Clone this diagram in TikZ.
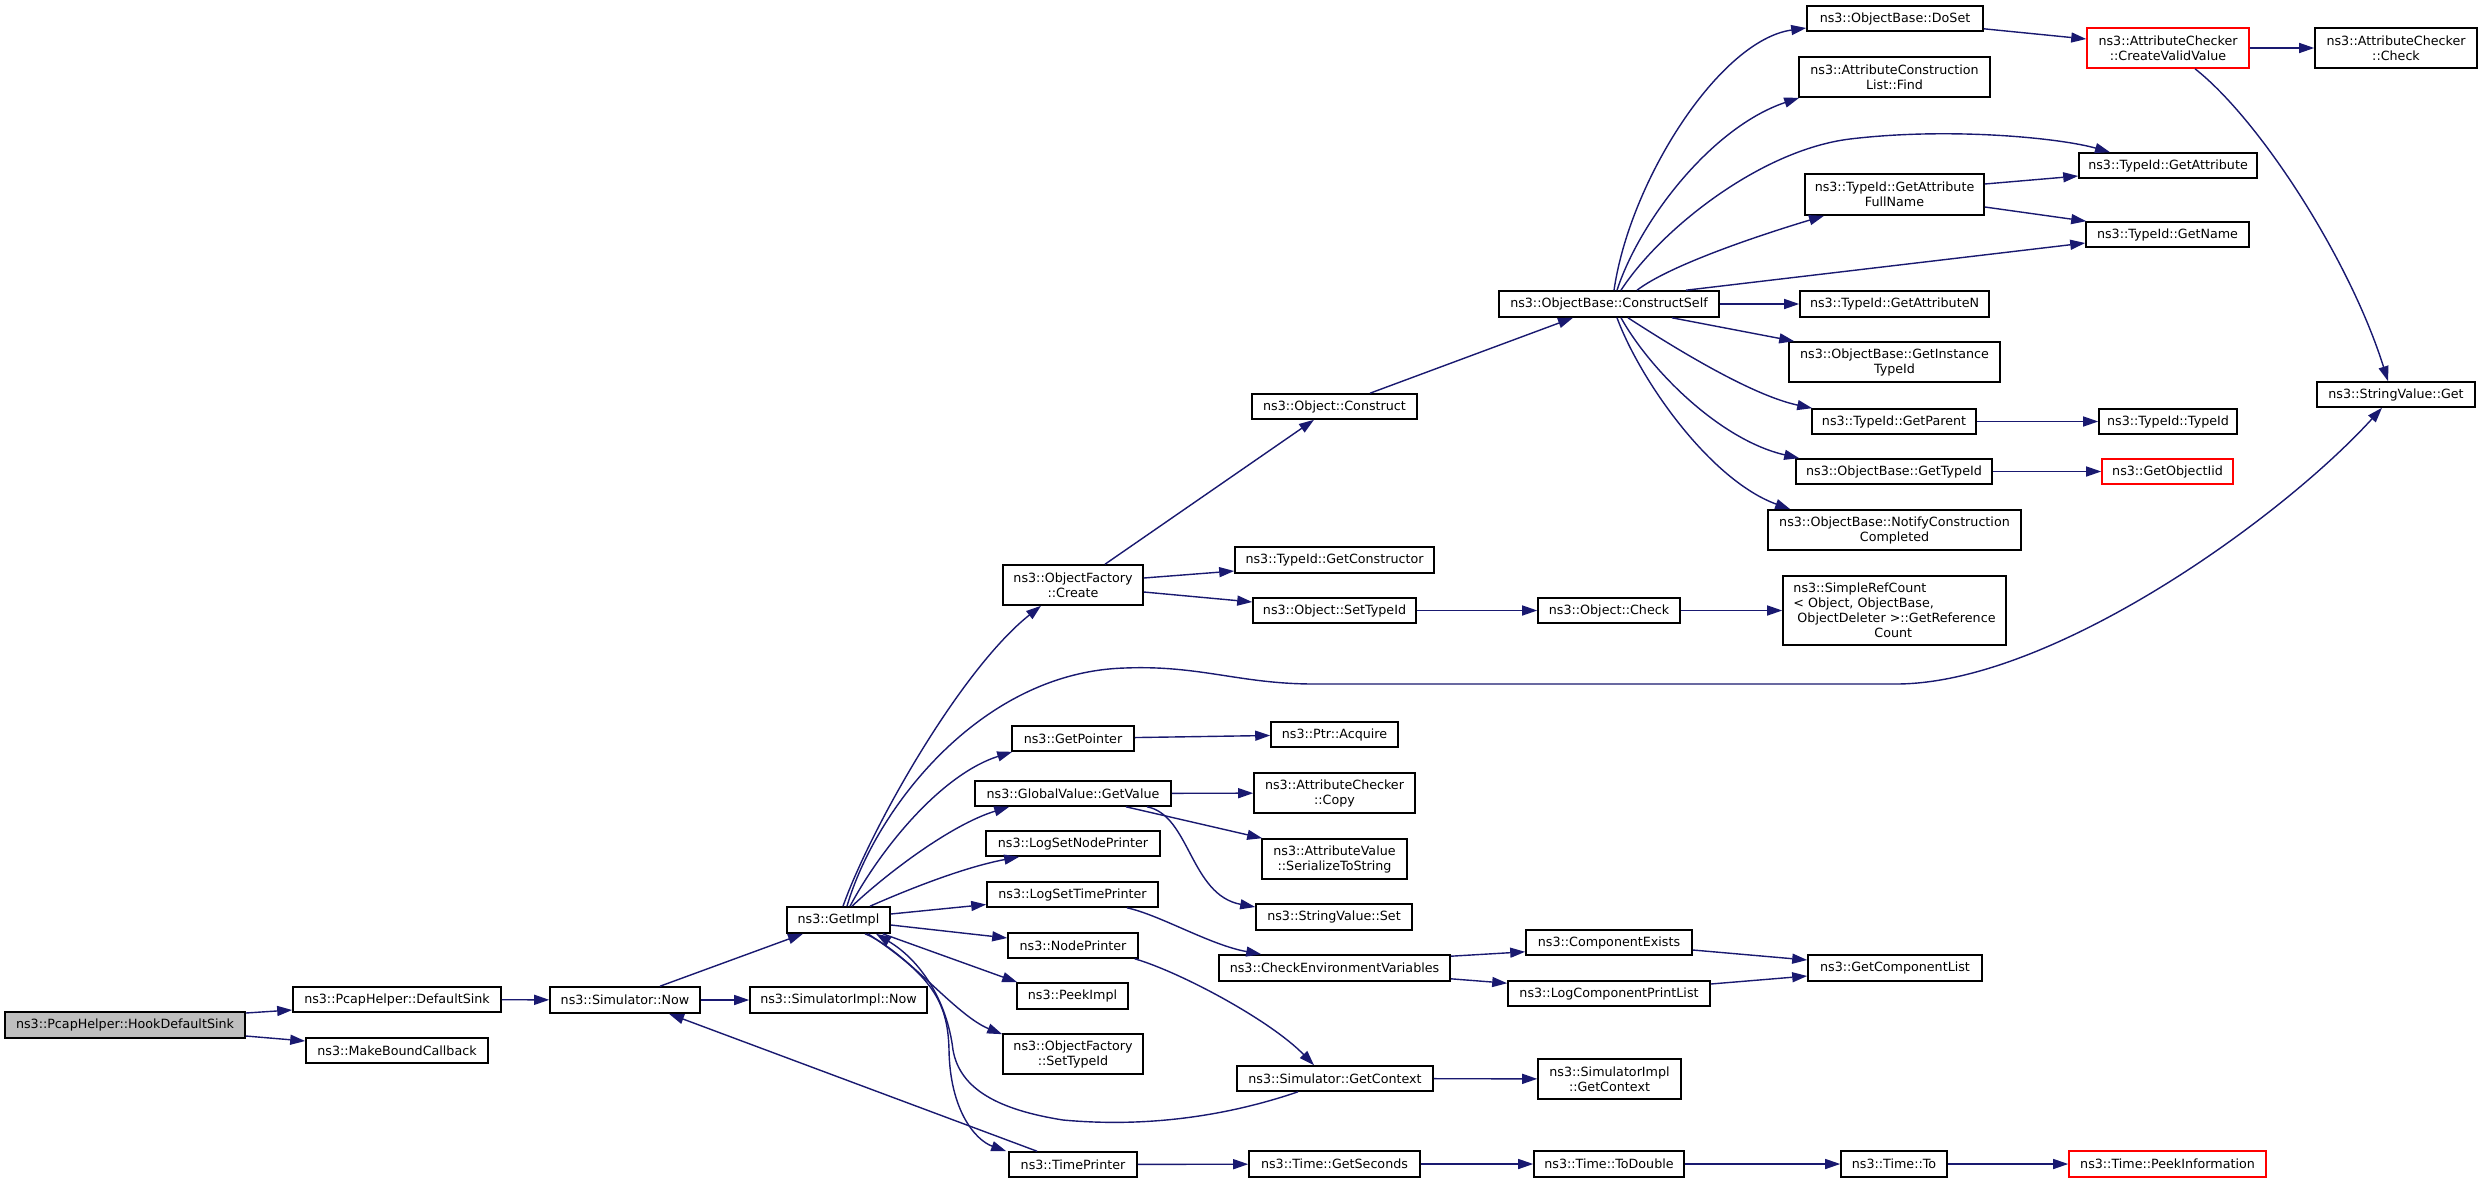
\documentclass[tikz,border=0pt]{standalone}
\usepackage{fontspec}
\setmainfont{DejaVu Sans}
\usetikzlibrary{arrows.meta,calc}
\definecolor{edgeblue}{HTML}{191970}
\definecolor{fngray}{HTML}{BFBFBF}
\definecolor{redborder}{HTML}{FF0000}
\begin{document}
\begin{tikzpicture}[x=1pt,y=-1pt,
  box/.style={draw=black, line width=1.6pt, fill=white, inner sep=0pt, align=center,
              font=\fontsize{12.7}{15}\selectfont},
  fnbox/.style={box, fill=fngray},
  redbox/.style={box, draw=redborder},
  edge/.style={draw=edgeblue, line width=1.4pt, -{Triangle[length=15pt,width=10pt]}}]
\fill[white] (0,0) rectangle (2483,1183);
\useasboundingbox (0,0) rectangle (2483,1183);

% nodes
\node[fnbox, minimum width=240, minimum height=26] (hook) at (125,1025) {ns3::PcapHelper::HookDefaultSink};
\node[box, minimum width=208, minimum height=25] (defsink) at (397,999.5) {ns3::PcapHelper::DefaultSink};
\node[box, minimum width=182, minimum height=25] (mkcb) at (397,1050.5) {ns3::MakeBoundCallback};
\node[box, minimum width=150, minimum height=26] (simnow) at (625,1000) {ns3::Simulator::Now};
\node[box, minimum width=177, minimum height=26] (simimplnow) at (838.5,1000) {ns3::SimulatorImpl::Now};
\node[box, minimum width=103, minimum height=26] (getimpl) at (838.5,920) {ns3::GetImpl};
\node[box, minimum width=140, minimum height=40] (create) at (1073,585) {ns3::ObjectFactory\\::Create};
\node[box, minimum width=165, minimum height=25] (construct) at (1334.5,406.5) {ns3::Object::Construct};
\node[box, minimum width=220, minimum height=26] (cself) at (1609,304) {ns3::ObjectBase::ConstructSelf};
\node[box, minimum width=176, minimum height=25] (doset) at (1895,18.5) {ns3::ObjectBase::DoSet};
\node[box, minimum width=191, minimum height=40] (acfind) at (1894.5,77) {ns3::AttributeConstruction\\List::Find};
\node[box, minimum width=178, minimum height=25] (getattr) at (2168,165.5) {ns3::TypeId::GetAttribute};
\node[box, minimum width=179, minimum height=41] (fullname) at (1894.5,194.5) {ns3::TypeId::GetAttribute\\FullName};
\node[box, minimum width=163, minimum height=25] (getname) at (2167.5,234.5) {ns3::TypeId::GetName};
\node[box, minimum width=189, minimum height=26] (getattrn) at (1894.5,304) {ns3::TypeId::GetAttributeN};
\node[box, minimum width=211, minimum height=40] (insttid) at (1894.5,362) {ns3::ObjectBase::GetInstance\\TypeId};
\node[box, minimum width=164, minimum height=25] (getparent) at (1894,421.5) {ns3::TypeId::GetParent};
\node[box, minimum width=138, minimum height=25] (typeid) at (2168,421.5) {ns3::TypeId::TypeId};
\node[box, minimum width=196, minimum height=25] (gettypeid) at (1894,471.5) {ns3::ObjectBase::GetTypeId};
\node[redbox, minimum width=131, minimum height=25] (objiid) at (2167.5,471.5) {ns3::GetObjectIid};
\node[box, minimum width=253, minimum height=40] (notify) at (1894.5,530) {ns3::ObjectBase::NotifyConstruction\\Completed};
\node[redbox, minimum width=162, minimum height=40] (cvv) at (2168,48) {ns3::AttributeChecker\\::CreateValidValue};
\node[box, minimum width=162, minimum height=40] (acheck) at (2396,48) {ns3::AttributeChecker\\::Check};
\node[box, minimum width=158, minimum height=25] (svget) at (2396,394.5) {ns3::StringValue::Get};
\node[box, minimum width=199, minimum height=26] (getctor) at (1334.5,560) {ns3::TypeId::GetConstructor};
\node[box, minimum width=163, minimum height=25] (settid) at (1334.5,610.5) {ns3::Object::SetTypeId};
\node[box, minimum width=142, minimum height=25] (ocheck) at (1609,610.5) {ns3::Object::Check};
\node[box, minimum width=223, minimum height=69, align=left] (srefc) at (1894.5,610.5)
  {ns3::SimpleRefCount\\< Object, ObjectBase,\\\hspace*{4pt}ObjectDeleter >::GetReference\\\hspace*{81pt}Count};
\node[box, minimum width=122, minimum height=25] (getptr) at (1073,738.5) {ns3::GetPointer};
\node[box, minimum width=127, minimum height=25] (acquire) at (1334.5,734.5) {ns3::Ptr::Acquire};
\node[box, minimum width=196, minimum height=25] (getvalue) at (1073,793.5) {ns3::GlobalValue::GetValue};
\node[box, minimum width=161, minimum height=40] (accopy) at (1334.5,793) {ns3::AttributeChecker\\::Copy};
\node[box, minimum width=174, minimum height=25] (lsnp) at (1073,843.5) {ns3::LogSetNodePrinter};
\node[box, minimum width=145, minimum height=40] (serial) at (1334.5,859) {ns3::AttributeValue\\::SerializeToString};
\node[box, minimum width=171, minimum height=25] (lstp) at (1072.5,894.5) {ns3::LogSetTimePrinter};
\node[box, minimum width=156, minimum height=26] (svset) at (1334,917) {ns3::StringValue::Set};
\node[box, minimum width=130, minimum height=25] (nodeprinter) at (1073,945.5) {ns3::NodePrinter};
\node[box, minimum width=231, minimum height=26] (checkenv) at (1334.5,968) {ns3::CheckEnvironmentVariables};
\node[box, minimum width=166, minimum height=25] (compexists) at (1609,942.5) {ns3::ComponentExists};
\node[box, minimum width=174, minimum height=26] (getcomplist) at (1895,968) {ns3::GetComponentList};
\node[box, minimum width=202, minimum height=25] (lcpl) at (1609,993.5) {ns3::LogComponentPrintList};
\node[box, minimum width=111, minimum height=26] (peekimpl) at (1072.5,996) {ns3::PeekImpl};
\node[box, minimum width=140, minimum height=40] (ofsettid) at (1073,1054) {ns3::ObjectFactory\\::SetTypeId};
\node[box, minimum width=196, minimum height=25] (simgetctx) at (1335,1078.5) {ns3::Simulator::GetContext};
\node[box, minimum width=143, minimum height=40] (simimplgetctx) at (1609.5,1079) {ns3::SimulatorImpl\\::GetContext};
\node[box, minimum width=128, minimum height=25] (timeprinter) at (1073,1164.5) {ns3::TimePrinter};
\node[box, minimum width=171, minimum height=26] (getseconds) at (1334.5,1164) {ns3::Time::GetSeconds};
\node[box, minimum width=150, minimum height=26] (todouble) at (1609,1164) {ns3::Time::ToDouble};
\node[box, minimum width=106, minimum height=26] (timeto) at (1894,1164) {ns3::Time::To};
\node[redbox, minimum width=197, minimum height=26] (peekinfo) at (2167.5,1164) {ns3::Time::PeekInformation};

% edges
\draw[edge] ($(hook.east)+(0,-12)$) -- ($(defsink.west)+(0,10.5)$);
\draw[edge] ($(hook.east)+(0,11)$) -- ($(mkcb.west)+(0,-9.5)$);
\draw[edge] (defsink) -- (simnow);
\draw[edge] ($(simnow.north)+(35,0)$) -- ($(getimpl.south)+(-35.5,0)$);
\draw[edge] (simnow) -- (simimplnow);
\draw[edge] ($(timeprinter.north)+(-36,0)$) -- ($(simnow.south)+(44,0)$);

\draw[edge] ($(getimpl.north)+(4.5,0)$) .. controls (870,830) and (960,670) .. ($(create.south)+(-32,0)$);
\draw[edge] ($(getimpl.north)+(8.5,0)$) .. controls (875,810) and (980,672) .. (1125,668)
   .. controls (1200,665) and (1240,684) .. (1314,684) -- (1896,684)
   .. controls (2050,684) and (2280,520) .. ($(svget.south)+(-14,0)$);
\draw[edge] ($(getimpl.north)+(11.5,0)$) .. controls (880,850) and (940,775) .. ($(getptr.south west)+(1,0)$);
\draw[edge] ($(getimpl.north)+(13.5,0)$) .. controls (885,875) and (950,825) .. ($(getvalue.south west)+(35,0)$);
\draw[edge] ($(getimpl.north)+(31.5,0)$) .. controls (900,893) and (960,868) .. ($(lsnp.south west)+(34,0)$);
\draw[edge] ($(getimpl.east)+(0,-6)$) -- ($(lstp.west)+(0,10)$);
\draw[edge] ($(getimpl.east)+(0,5)$) -- ($(nodeprinter.west)+(0,-7.5)$);
\draw[edge] ($(getimpl.south east)+(-8,0)$) -- ($(peekimpl.north west)+(1,0)$);
\draw[edge] ($(getimpl.south)+(26.5,0)$) .. controls (905,950) and (955,1015) .. ($(ofsettid.north west)+(0,1)$);
\draw[edge] ($(getimpl.south)+(29.5,0)$) .. controls (930,975) and (948,1000) .. (949,1050)
   .. controls (950,1110) and (975,1140) .. ($(timeprinter.north west)+(-2,0)$);
\draw[edge] ($(simgetctx.south)+(-37,0)$) .. controls (1230,1115) and (1150,1128) .. (1063,1120)
   .. controls (1000,1110) and (960,1090) .. (953,1050)
   .. controls (947,1000) and (920,960) .. ($(getimpl.south)+(37.5,0)$);

\draw[edge] ($(create.north)+(32,0)$) -- ($(construct.south)+(-20.5,0)$);
\draw[edge] ($(create.east)+(0,-7)$) -- ($(getctor.west)+(0,11)$);
\draw[edge] ($(create.east)+(0,7)$) -- ($(settid.west)+(0,-8.5)$);
\draw[edge] ($(construct.north)+(35.5,0)$) -- ($(cself.south)+(-36,0)$);
\draw[edge] (settid) -- (ocheck);
\draw[edge] (ocheck) -- (srefc);

\draw[edge] ($(cself.north)+(5,0)$) .. controls (1630,180) and (1720,40) .. ($(doset.west)+(0,9.5)$);
\draw[edge] ($(cself.north)+(8,0)$) .. controls (1640,220) and (1712,127) .. ($(acfind.south west)+(1,0)$);
\draw[edge] ($(cself.north)+(12,0)$) .. controls (1660,230) and (1760,150) .. (1850,139)
   .. controls (1950,127) and (2060,138) .. ($(getattr.north)+(-58,0)$);
\draw[edge] ($(cself.north)+(28,0)$) .. controls (1670,265) and (1760,235) .. ($(fullname.south)+(-70.5,0)$);
\draw[edge] ($(cself.north)+(77,0)$) -- ($(getname.west)+(0,8.5)$);
\draw[edge] (cself) -- (getattrn);
\draw[edge] ($(cself.south)+(63,0)$) -- ($(insttid.north west)+(6,0)$);
\draw[edge] ($(cself.south)+(19,0)$) .. controls (1670,345) and (1750,395) .. ($(getparent.north west)+(1,0)$);
\draw[edge] ($(cself.south)+(12,0)$) .. controls (1650,370) and (1720,440) .. ($(gettypeid.north west)+(4,0)$);
\draw[edge] ($(cself.south)+(8,0)$) .. controls (1640,380) and (1710,480) .. ($(notify.north west)+(23,0)$);

\draw[edge] ($(doset.south east)+(0,-3)$) -- ($(cvv.west)+(0,-9)$);
\draw[edge] (cvv) -- (acheck);
\draw[edge] ($(cvv.south)+(27,0)$) .. controls (2260,120) and (2350,260) .. ($(svget.north)+(-8,0)$);
\draw[edge] ($(fullname.east)+(0,-10.5)$) -- ($(getattr.west)+(0,10.5)$);
\draw[edge] ($(fullname.east)+(0,12.5)$) -- ($(getname.north west)+(1,0)$);
\draw[edge] (getparent) -- (typeid);
\draw[edge] (gettypeid) -- (objiid);

\draw[edge] (getptr) -- (acquire);
\draw[edge] (getvalue) -- (accopy);
\draw[edge] ($(getvalue.south)+(53,0)$) -- ($(serial.north west)+(1,0)$);
\draw[edge] ($(getvalue.south)+(74,0)$) .. controls (1190,815) and (1190,895) .. ($(svset.west)+(0,-10)$);
\draw[edge] ($(lstp.south)+(54.5,0)$) .. controls (1160,915) and (1210,945) .. ($(checkenv.north west)+(43,0)$);
\draw[edge] ($(nodeprinter.south east)+(-4,0)$) .. controls (1180,972) and (1270,1020) .. ($(simgetctx.north)+(-21,0)$);
\draw[edge] (simgetctx) -- (simimplgetctx);
\draw[edge] ($(checkenv.north east)+(0,2)$) -- ($(compexists.south west)+(0,-4)$);
\draw[edge] ($(checkenv.south east)+(0,-3)$) -- ($(lcpl.north west)+(0,3)$);
\draw[edge] ($(compexists.east)+(0,7.5)$) -- ($(getcomplist.west)+(0,-8)$);
\draw[edge] ($(lcpl.east)+(0,-9.5)$) -- ($(getcomplist.west)+(0,8)$);

\draw[edge] (timeprinter) -- (getseconds);
\draw[edge] (getseconds) -- (todouble);
\draw[edge] (todouble) -- (timeto);
\draw[edge] (timeto) -- (peekinfo);
\end{tikzpicture}
\end{document}
